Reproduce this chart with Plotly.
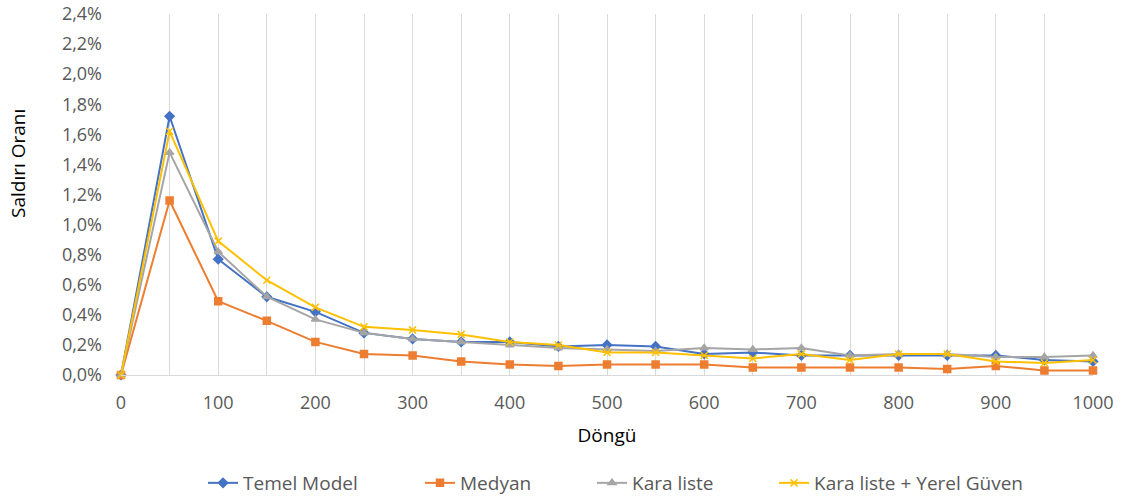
import plotly.graph_objects as go

dongu = [0, 50, 100, 150, 200, 250, 300, 350, 400, 450, 500, 550, 600, 650, 700, 750, 800, 850, 900, 950, 1000]
temel_model = [0.0, 1.72, 0.77, 0.52, 0.42, 0.28, 0.24, 0.22, 0.22, 0.19, 0.20, 0.19, 0.14, 0.15, 0.13, 0.13, 0.13, 0.13, 0.13, 0.10, 0.09]
medyan = [0.0, 1.16, 0.49, 0.36, 0.22, 0.14, 0.13, 0.09, 0.07, 0.06, 0.07, 0.07, 0.07, 0.05, 0.05, 0.05, 0.05, 0.04, 0.06, 0.03, 0.03]
kara_liste = [0.0, 1.48, 0.82, 0.52, 0.37, 0.28, 0.24, 0.22, 0.20, 0.18, 0.17, 0.16, 0.18, 0.17, 0.18, 0.13, 0.14, 0.14, 0.12, 0.12, 0.13]
kara_yerel = [0.0, 1.62, 0.89, 0.63, 0.45, 0.32, 0.30, 0.27, 0.22, 0.20, 0.15, 0.15, 0.13, 0.11, 0.14, 0.10, 0.14, 0.14, 0.09, 0.08, 0.10]

x_tick_vals = list(range(0, 1001, 50))
x_tick_text = [str(v) if v % 100 == 0 else "" for v in x_tick_vals]
y_tick_vals = [round(i * 0.2, 1) for i in range(13)]
y_tick_text = [f"{v:.1f}%".replace(".", ",") for v in y_tick_vals]

series = [
    ("Temel Model", temel_model, "#4472C4", "diamond", 7),
    ("Medyan", medyan, "#ED7D31", "square", 7),
    ("Kara liste", kara_liste, "#A5A5A5", "triangle-up", 7),
    ("Kara liste + Yerel Güven", kara_yerel, "#FFC000", "x-thin", 7),
]

# legend left edges in pixel coords (plot area spans 121..1093)
legend_px = [203, 420, 592, 774]
plot_left, plot_w = 121, 972
plot_bottom, plot_h = 375, 361
FONT = "Open Sans, Liberation Sans, sans-serif"

fig = go.Figure()
for i, (name, vals, color, sym, size) in enumerate(series):
    fig.add_trace(go.Scatter(
        x=dongu, y=vals, name=name, mode="lines+markers",
        line=dict(color=color, width=2),
        marker=dict(color=color, symbol=sym, size=size,
                    line=dict(color=color, width=1.5)),
        cliponaxis=False, legend=f"legend{i+2}",
    ))

legend_font = dict(family=FONT, size=19, color="#595959")
layout_legends = {}
for i, px in enumerate(legend_px):
    layout_legends[f"legend{i+2}"] = dict(
        x=(px - plot_left) / plot_w, xanchor="left",
        yref="container", y=1 - 483 / 498, yanchor="middle",
        orientation="h", font=legend_font, bgcolor="rgba(0,0,0,0)",
        itemwidth=30, tracegroupgap=0,
    )

fig.update_layout(
    width=1122, height=498,
    margin=dict(l=121, r=29, t=14, b=123),
    paper_bgcolor="white", plot_bgcolor="white",
    font=dict(family=FONT, size=16, color="#595959"),
    annotations=[dict(
        text="Saldırı Oranı", textangle=-90,
        xref="paper", yref="paper",
        x=(18 - plot_left) / plot_w, y=(plot_bottom - 164) / plot_h,
        xanchor="center", yanchor="middle", showarrow=False,
        font=dict(family=FONT, size=19, color="#000000"),
    )],
    **layout_legends,
)

fig.update_xaxes(
    range=[0, 1000], tickvals=x_tick_vals, ticktext=x_tick_text,
    showgrid=True, gridcolor="#D9D9D9", gridwidth=1,
    showline=True, linecolor="#D9D9D9", linewidth=1,
    zeroline=False, ticks="", automargin=False,
    tickfont=dict(family=FONT, size=18, color="#595959"),
    ticklabelstandoff=11,
    title=dict(text="Döngü", font=dict(family=FONT, size=19, color="#000000"), standoff=16),
)
fig.update_yaxes(
    range=[0, 2.4], tickvals=y_tick_vals, ticktext=y_tick_text,
    showgrid=False, zeroline=False, showline=False, ticks="", automargin=False,
    tickfont=dict(family=FONT, size=18, color="#595959"),
    ticklabelstandoff=18,
)

fig.write_html("out.html")
